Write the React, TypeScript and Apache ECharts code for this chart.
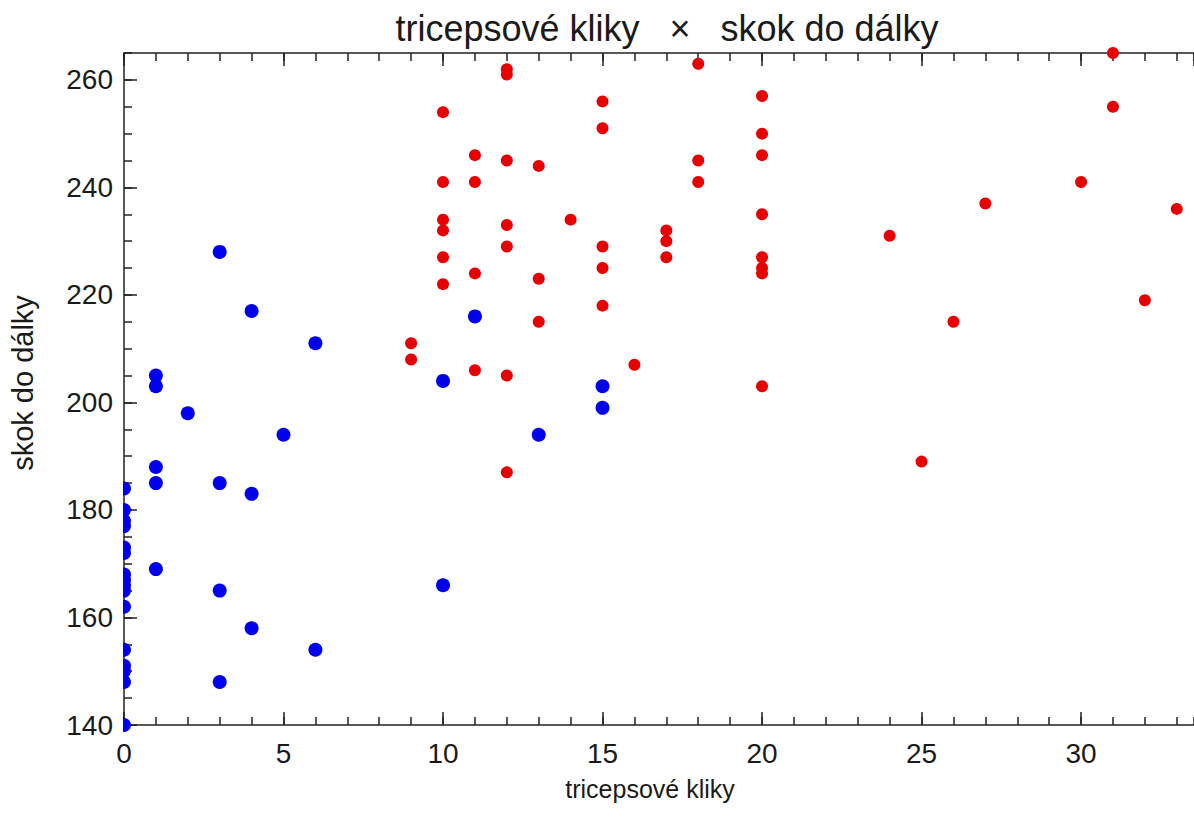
import React, { useEffect, useRef } from "react";
import * as echarts from "echarts";

const TITLE = "tricepsové kliky   ×   skok do dálky";
const X_NAME = "tricepsové kliky";
const Y_NAME = "skok do dálky";

const X_MIN = 0;
const X_MAX = 33.54;
const Y_MIN = 140;
const Y_MAX = 265;

// blue group: [tricepsové kliky, skok do dálky]
const bluePoints: number[][] = [
  [0, 184], [0, 180], [0, 178], [0, 177], [0, 173], [0, 172], [0, 168], [0, 167],
  [0, 166], [0, 165], [0, 162], [0, 154], [0, 151], [0, 150], [0, 148], [0, 140],
  [1, 205], [1, 203], [1, 188], [1, 185], [1, 169],
  [2, 198],
  [3, 228], [3, 185], [3, 165], [3, 148],
  [4, 217], [4, 183], [4, 158],
  [5, 194],
  [6, 211], [6, 154],
  [10, 204], [10, 166],
  [11, 216],
  [13, 194],
  [15, 203], [15, 199],
];

// red group
const redPoints: number[][] = [
  [9, 211], [9, 208],
  [10, 254], [10, 241], [10, 234], [10, 232], [10, 227], [10, 222],
  [11, 246], [11, 241], [11, 224], [11, 206],
  [12, 262], [12, 261], [12, 245], [12, 233], [12, 229], [12, 205], [12, 187],
  [13, 244], [13, 223], [13, 215],
  [14, 234],
  [15, 256], [15, 251], [15, 229], [15, 225], [15, 218],
  [16, 207],
  [17, 232], [17, 230], [17, 227],
  [18, 263], [18, 245], [18, 241],
  [20, 257], [20, 250], [20, 246], [20, 235], [20, 227], [20, 225], [20, 224], [20, 203],
  [24, 231], [25, 189], [26, 215], [27, 237], [30, 241],
  [31, 265], [31, 255], [32, 219], [33, 236],
];

const FONT = "'Liberation Sans', Arial, sans-serif";
const AXIS_COLOR = "#222222";
const TEXT_COLOR = "#1a1a1a";

function xAx(position: string, interval: number, tickLen: number, showLine: boolean, showLabel: boolean) {
  return {
    type: "value",
    position,
    min: X_MIN,
    max: X_MAX,
    interval,
    axisLine: { show: showLine, onZero: false, lineStyle: { color: AXIS_COLOR, width: 1.5 } },
    axisTick: { show: true, inside: true, length: tickLen, lineStyle: { color: AXIS_COLOR, width: 1.5 } },
    axisLabel: {
      show: showLabel,
      fontSize: 28,
      color: TEXT_COLOR,
      fontFamily: FONT,
      margin: 14,
      showMaxLabel: false,
    },
    splitLine: { show: false },
  };
}

function yAx(interval: number, tickLen: number, showLine: boolean, showLabel: boolean) {
  return {
    type: "value",
    position: "left",
    min: Y_MIN,
    max: Y_MAX,
    interval,
    axisLine: { show: showLine, onZero: false, lineStyle: { color: AXIS_COLOR, width: 1.5 } },
    axisTick: { show: true, inside: true, length: tickLen, lineStyle: { color: AXIS_COLOR, width: 1.5 } },
    axisLabel: {
      show: showLabel,
      fontSize: 28,
      color: TEXT_COLOR,
      fontFamily: FONT,
      margin: 11,
      showMaxLabel: false,
    },
    splitLine: { show: false },
  };
}

export default function App() {
  const ref = useRef<HTMLDivElement>(null);

  useEffect(() => {
    if (!ref.current) return;
    const chart = echarts.init(ref.current, null, { renderer: "svg" });
    chart.setOption({
      animation: false,
      backgroundColor: "#ffffff",
      grid: { left: 124, top: 53, right: 0, bottom: 107, containLabel: false },
      xAxis: [
        xAx("bottom", 5, 13, true, true),
        xAx("bottom", 1, 8, false, false),
        xAx("top", 5, 13, true, false),
        xAx("top", 1, 8, false, false),
      ],
      yAxis: [yAx(20, 13, true, true), yAx(5, 8, false, false)],
      graphic: [
        {
          type: "rect",
          z: 100,
          shape: { x: 114, y: 40, width: 9, height: 700 },
          style: { fill: "#ffffff" },
          silent: true,
        },
        {
          type: "text",
          x: 667,
          y: 28,
          style: {
            text: TITLE,
            fontSize: 36,
            fontFamily: FONT,
            fill: TEXT_COLOR,
            align: "center",
            verticalAlign: "middle",
          },
        },
        {
          type: "text",
          x: 650,
          y: 789,
          style: {
            text: X_NAME,
            fontSize: 25,
            fontFamily: FONT,
            fill: TEXT_COLOR,
            align: "center",
            verticalAlign: "middle",
          },
        },
        {
          type: "text",
          x: 23,
          y: 383,
          rotation: Math.PI / 2,
          style: {
            text: Y_NAME,
            fontSize: 29,
            fontFamily: FONT,
            fill: TEXT_COLOR,
            align: "center",
            verticalAlign: "middle",
          },
        },
      ],
      series: [
        {
          type: "scatter",
          xAxisIndex: 0,
          yAxisIndex: 0,
          data: bluePoints,
          symbol: "circle",
          symbolSize: 14,
          clip: false,
          itemStyle: { color: "rgb(0,0,235)", opacity: 1 },
          z: 3,
        },
        {
          type: "scatter",
          xAxisIndex: 0,
          yAxisIndex: 0,
          data: redPoints,
          symbol: "circle",
          symbolSize: 12,
          clip: false,
          itemStyle: { color: "rgb(230,0,0)", opacity: 1 },
          z: 4,
        },
      ],
    });
    return () => chart.dispose();
  }, []);

  return (
    <div
      ref={ref}
      style={{ position: "fixed", left: 0, top: 0, width: 1194, height: 832, background: "#fff" }}
    />
  );
}
